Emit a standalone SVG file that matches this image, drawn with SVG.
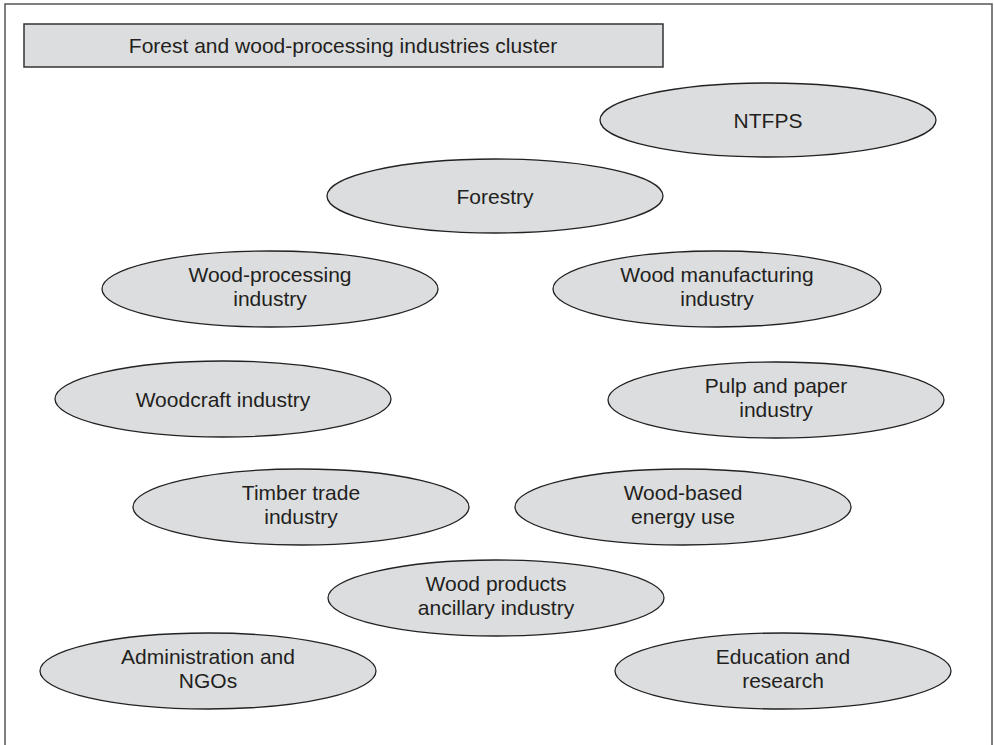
<svg xmlns="http://www.w3.org/2000/svg" width="994" height="745" viewBox="0 0 994 745">
<style>
.frame{fill:#fff;stroke:#555;stroke-width:1.5}
.title{fill:#dcdddf;stroke:#333;stroke-width:1.5}
.node ellipse{fill:#dcdddf;stroke:#222;stroke-width:1.3}
text{font-family:"Liberation Sans",Arial,sans-serif;font-size:21px;fill:#231f20;text-anchor:middle}
</style>
<rect class="frame" x="5" y="4" width="987" height="742"/>
<g id="title"><rect class="title" x="24" y="24" width="639" height="43"/><text x="343" y="53">Forest and wood-processing industries cluster</text></g>
<g id="connectors"></g>
<g id="ntfps" class="node"><ellipse cx="768" cy="120" rx="168" ry="37"/><text x="768" y="128">NTFPS</text></g>
<g id="forestry" class="node"><ellipse cx="495" cy="196" rx="168" ry="37"/><text x="495" y="204">Forestry</text></g>
<g id="wood-processing" class="node"><ellipse cx="270" cy="289" rx="168" ry="38"/><text x="270" y="282">Wood-processing</text><text x="270" y="306">industry</text></g>
<g id="wood-manufacturing" class="node"><ellipse cx="717" cy="289" rx="164" ry="38"/><text x="717" y="282">Wood manufacturing</text><text x="717" y="306">industry</text></g>
<g id="woodcraft" class="node"><ellipse cx="223" cy="399" rx="168" ry="38"/><text x="223" y="407">Woodcraft industry</text></g>
<g id="pulp-paper" class="node"><ellipse cx="776" cy="400" rx="168" ry="38"/><text x="776" y="393">Pulp and paper</text><text x="776" y="417">industry</text></g>
<g id="timber-trade" class="node"><ellipse cx="301" cy="507" rx="168" ry="38"/><text x="301" y="500">Timber trade</text><text x="301" y="524">industry</text></g>
<g id="wood-energy" class="node"><ellipse cx="683" cy="507" rx="168" ry="38"/><text x="683" y="500">Wood-based</text><text x="683" y="524">energy use</text></g>
<g id="ancillary" class="node"><ellipse cx="496" cy="598" rx="168" ry="38"/><text x="496" y="591">Wood products</text><text x="496" y="615">ancillary industry</text></g>
<g id="administration" class="node"><ellipse cx="208" cy="671" rx="168" ry="38"/><text x="208" y="664">Administration and</text><text x="208" y="688">NGOs</text></g>
<g id="education" class="node"><ellipse cx="783" cy="671" rx="168" ry="38"/><text x="783" y="664">Education and</text><text x="783" y="688">research</text></g>
</svg>
